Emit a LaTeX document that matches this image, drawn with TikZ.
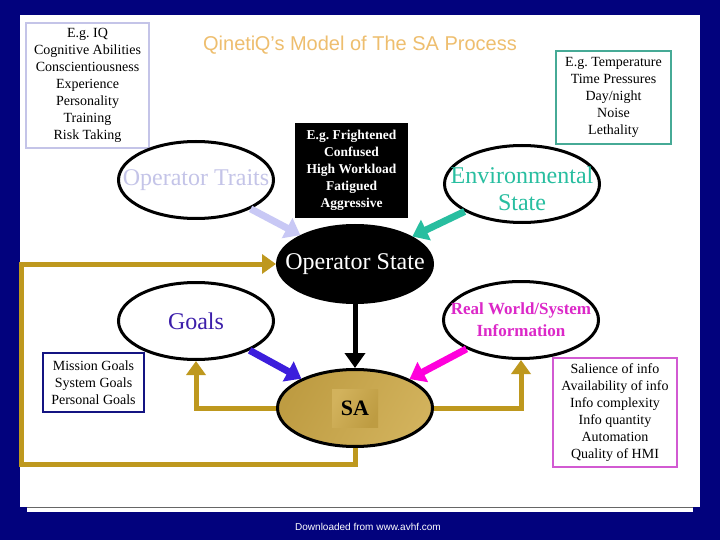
\documentclass[tikz,border=0pt]{standalone}
\usepackage{fontspec}
\setmainfont{Liberation Serif}
\newfontfamily\arialfont{Liberation Sans}
\usetikzlibrary{shapes.geometric,arrows.meta}
\definecolor{slideblue}{RGB}{2,2,125}
\definecolor{titleorange}{RGB}{238,190,110}
\definecolor{traitc}{RGB}{196,196,232}
\definecolor{traitarrow}{RGB}{200,200,245}
\definecolor{envc}{RGB}{40,190,160}
\definecolor{envbox}{RGB}{70,170,150}
\definecolor{goalc}{RGB}{60,30,170}
\definecolor{goalarrow}{RGB}{60,30,220}
\definecolor{goalbox}{RGB}{20,20,130}
\definecolor{infoc}{RGB}{220,40,200}
\definecolor{infoarrow}{RGB}{255,0,220}
\definecolor{infobox}{RGB}{210,90,210}
\definecolor{qgold}{RGB}{190,152,30}
\definecolor{goldA}{RGB}{190,156,66}
\definecolor{goldB}{RGB}{240,222,150}
\definecolor{goldC}{RGB}{210,178,92}
\frenchspacing

\begin{document}
\begin{tikzpicture}[x=1pt,y=-1pt,
    ell/.style={draw=black,line width=3pt,ellipse,minimum width=155pt,minimum height=77pt,
      inner sep=0pt,fill=white},
    elltext/.style={align=center,inner sep=0pt,font=\fontsize{24}{27}\selectfont},
    listbox/.style={draw,line width=1.5pt,align=center,inner sep=0pt,
      font=\fontsize{14}{17}\selectfont},
    fat/.style={line width=7pt,-{Triangle[length=15pt,width=22pt]}},
    loopline/.style={draw=qgold,line width=5pt,-{Triangle[length=14pt,width=19pt]}}]
    % slide
    \fill[slideblue] (0,0) rectangle (720,540);
    \fill[white] (27,20) rectangle (693,512);
    \fill[white] (20,15) rectangle (700,507);
    \draw[black!60,line width=0.6pt] (27,507.5) -- (693,507.5);
    \node[font=\arialfont\fontsize{20}{22}\selectfont,text=titleorange] (title) at (360,45)
      {Qineti\kern-0.5ptQ’s Model of The SA Process};
    \node[font=\arialfont\fontsize{10}{12}\selectfont,text=white] (source) at (368,527)
      {Downloaded from www.avhf.com};

    % example boxes
    \node[listbox,draw=traitc,minimum width=123pt,minimum height=125pt] (traitbox) at (87.5,85.5)
      {E.g. IQ\\Cognitive Abilities\\Conscientiousness\\Experience\\Personality\\Training\\Risk Taking};
    \node[listbox,draw=black,fill=black,text=white,font=\bfseries\fontsize{13.5}{17}\selectfont,
      minimum width=111pt,minimum height=93pt] (statebox) at (351.5,170.5)
      {E.g. Frightened\\Confused\\High Workload\\Fatigued\\Aggressive};
    \node[listbox,draw=envbox,line width=2.5pt,minimum width=115pt,minimum height=93pt] (envbox) at (613.5,97.5)
      {E.g. Temperature\\Time Pressures\\Day/night\\Noise\\Lethality};
    \node[listbox,draw=goalbox,line width=2pt,minimum width=101pt,minimum height=59pt] (goalbox) at (93.5,382.5)
      {Mission Goals\\System Goals\\Personal Goals};
    \node[listbox,draw=infobox,line width=2pt,minimum width=124pt,minimum height=109pt] (infobox) at (615,412.5)
      {Salience of info\\Availability of info\\Info complexity\\Info quantity\\Automation\\Quality of HMI};

    % ellipses
    \node[ell,label={[elltext,text=traitc]center:Operator Traits}] (traits) at (196,180) {};
    \node[ell,label={[elltext,text=envc,yshift=-5pt]center:Environmental\\State}] (env) at (522,184) {};
    \node[ell,fill=black,label={[elltext,text=white]center:Operator State}] (opstate) at (355,264) {};
    \node[ell,label={[elltext,text=goalc]center:Goals}] (goals) at (196,321) {};
    \node[ell,label={[elltext,text=infoc,font=\bfseries\fontsize{17}{22}\selectfont]center:Real World/System\\Information}]
      (real) at (521,320) {};
    \node[ell,left color=goldA,middle color=goldB,right color=goldC,shading angle=60,
      label={[left color=goldC,middle color=goldB,right color=goldA,shading angle=60,
        minimum width=46pt,minimum height=38pt,inner sep=0pt,
        font=\bfseries\fontsize{22}{24}\selectfont]center:SA}] (sa) at (355,408) {};

    % arrows into the state and SA
    \draw[fat,traitarrow] (traits) -- (opstate);
    \draw[fat,envc] (env) -- (opstate);
    \draw[fat,black,line width=5pt,-{Triangle[length=15pt,width=20pt]}] (opstate) -- (sa);
    \draw[fat,goalarrow] (goals) -- (sa);
    \draw[fat,infoarrow] (real) -- (sa);

    % feedback
    \coordinate (loopcorner) at (21,464);
    \draw[loopline] (sa.west) -| (goals.south);
    \draw[loopline] (sa.east) -| (real.south);
    \draw[loopline] (sa.south) |- (loopcorner) |- (opstate.west);
  \end{tikzpicture}
\end{document}
